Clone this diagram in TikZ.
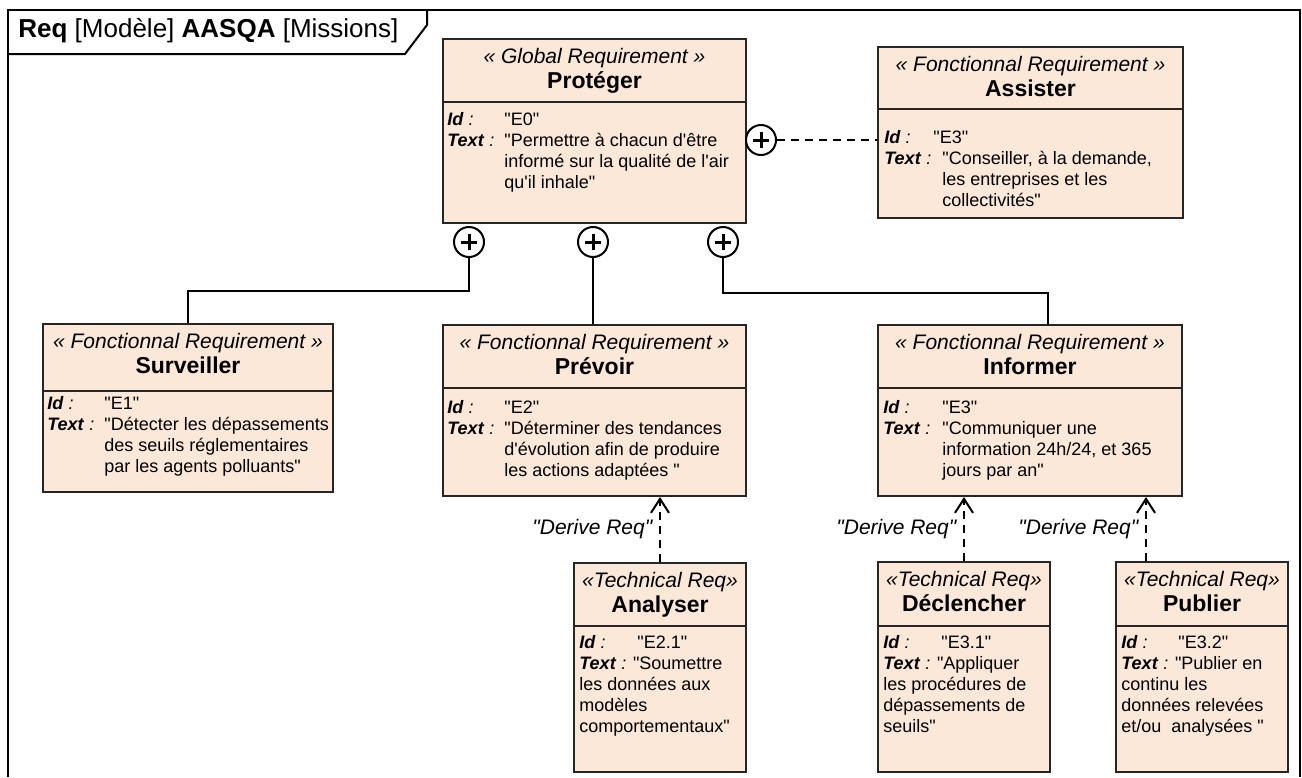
\documentclass[tikz,border=0pt]{standalone}
\usepackage{fontspec}
\setmainfont{Liberation Sans}[Ligatures=TeXOff]
\usetikzlibrary{fit,arrows.meta}
\definecolor{reqfill}{RGB}{252,232,216}
\newcommand{\idlab}[1][28.5pt]{\makebox[#1][l]{\textbf{\textit{Id}}\textit{ :}}}
\newcommand{\txtlab}{\textbf{\textit{Text}}\textit{ :}}

\begin{document}
\begin{tikzpicture}[x=0.5pt,y=-0.5pt,
  reqbox/.style={draw=black!85, fill=reqfill, line width=1pt, inner sep=0pt},
  sepline/.style={draw=black!85, line width=1pt},
  stereo/.style={font=\fontsize{10.5pt}{12pt}\selectfont\itshape, anchor=base, inner sep=0pt},
  reqname/.style={font=\fontsize{11.5pt}{13pt}\selectfont\bfseries, anchor=base, inner sep=0pt},
  body/.style={font=\fontsize{9pt}{10.5pt}\selectfont, anchor=base west, inner sep=0pt},
  plus/.style={circle, draw, fill=white, line width=1pt, minimum size=15pt, inner sep=0pt,
    path picture={\draw[line width=1.5pt]
      ([xshift=-4pt]path picture bounding box.center) -- ([xshift=4pt]path picture bounding box.center)
      ([yshift=-4pt]path picture bounding box.center) -- ([yshift=4pt]path picture bounding box.center);}},
  link/.style={line width=1pt},
  derive/.style={line width=1pt, dash pattern=on 4pt off 3pt, -{Straight Barb[length=7pt,width=9pt]}},
  dlabel/.style={font=\fontsize{10.5pt}{12pt}\selectfont\itshape, left}]

\useasboundingbox (0,0) rectangle (1302,777);

% frame and title tab
\draw[line width=1pt] (8,777) -- (8,10) -- (1300,10) -- (1300,777);
\draw[line width=1pt] (8,54) -- (405,54) -- (427,25) -- (427,10);
\node[anchor=base west, inner sep=0pt, font=\fontsize{13pt}{15pt}\selectfont] (title) at (18,37)
  {\textbf{Req} [Modèle] \textbf{AASQA} [Missions]};

% the requirement boxes
\foreach \nm/\l/\t/\r/\b/\s in {prot/443/39/746/223/102, assist/878/47/1183/218/109,
    surv/43/324/333/492/391, prev/443/325/746/496/388, inform/878/325/1182/496/388,
    analy/574/563/746/772/626, decl/878/562/1050/772/626, publ/1116/562/1288/772/626}
{
  \node[reqbox, fit={(\l,\t) (\r,\b)}] (\nm) {};
  \draw[sepline] (\l,\s) -- (\r,\s);
}

% stereotypes and names
\foreach \nm/\st/\ti in {prot/{« Global Requirement »}/Protéger,
    assist/{« Fonctionnal Requirement »}/Assister,
    surv/{« Fonctionnal Requirement »}/Surveiller,
    prev/{« Fonctionnal Requirement »}/Prévoir,
    inform/{« Fonctionnal Requirement »}/Informer,
    analy/{«Technical Req»}/Analyser,
    decl/{«Technical Req»}/Déclencher,
    publ/{«Technical Req»}/Publier}
{
  \node[stereo] (\nm-st) at ([yshift=-12.75pt]\nm.north) {\st};
  \node[reqname] (\nm-ti) at ([yshift=-25pt]\nm.north) {\ti};
}

% attributes
\node[body] (prot-body) at (447,125) {\begin{tabular}[t]{@{}l@{}l@{}}
  \idlab & "E0"\\ \txtlab & "Permettre à chacun d'être\\ & informé sur la qualité de l'air\\ & qu'il inhale"\end{tabular}};
\node[body] (assist-body) at (884,143.5) {\begin{tabular}[t]{@{}l@{}l@{}}
  \multicolumn{2}{@{}l@{}}{\idlab[24.5pt]"E3"}\\ \makebox[29pt][l]{\txtlab} & "Conseiller, à la demande,\\
  & les entreprises et les\\ & collectivités"\end{tabular}};
\node[body] (surv-body) at (47,409.5) {\begin{tabular}[t]{@{}l@{}l@{}}
  \idlab & "E1"\\ \txtlab & "Détecter les dépassements\\ & des seuils réglementaires\\ & par les agents polluants"\end{tabular}};
\node[body] (prev-body) at (447,413.5) {\begin{tabular}[t]{@{}l@{}l@{}}
  \idlab & "E2"\\ \txtlab & "Déterminer des tendances\\ & d'évolution afin de produire\\ & les actions adaptées "\end{tabular}};
\node[body] (inform-body) at (883,413.5) {\begin{tabular}[t]{@{}l@{}l@{}}
  \idlab[29.5pt] & "E3"\\ \txtlab & "Communiquer une\\ & information 24h/24, et 365\\ & jours par an"\end{tabular}};
\node[body] (analy-body) at (579,648.5) {\begin{tabular}[t]{@{}l@{}}
  \idlab[29pt]"E2.1"\\ \txtlab{} "Soumettre\\ les données aux\\ modèles\\ comportementaux"\end{tabular}};
\node[body] (decl-body) at (883,648.5) {\begin{tabular}[t]{@{}l@{}}
  \idlab[29pt]"E3.1"\\ \txtlab{} "Appliquer\\ les procédures de\\ dépassements de\\ seuils"\end{tabular}};
\node[body] (publ-body) at (1121,648.5) {\begin{tabular}[t]{@{}l@{}}
  \idlab[28.5pt]"E3.2"\\ \txtlab{} "Publier en\\ continu les\\ données relevées\\ et/ou\ \ analysées "\end{tabular}};

% containment
\node[plus] (c1) at (469,242) {};
\node[plus] (c2) at (593,242) {};
\node[plus] (c3) at (723,242) {};
\node[plus] (c4) at (761,140) {};

\draw[link] (c1.south) -- ++(0,33) -| (surv.north);
\draw[link] (c2.south) -- (c2.south |- prev.north);
\draw[link] (c3.south) -- ++(0,35) -| ([xshift=9pt]inform.north);
\draw[link, dash pattern=on 4pt off 3pt] (c4.east) -- (c4.east -| assist.west);

% derive relations
\draw[derive] (analy.north) -- node[dlabel] (d1) {"Derive Req"} (analy.north |- prev.south);
\draw[derive] (decl.north) -- node[dlabel] (d2) {"Derive Req"} (decl.north |- inform.south);
\coordinate (publtop) at ([xshift=-28pt]publ.north);
\draw[derive] (publtop) -- node[dlabel] (d3) {"Derive Req"} (publtop |- inform.south);

\end{tikzpicture}
\end{document}
